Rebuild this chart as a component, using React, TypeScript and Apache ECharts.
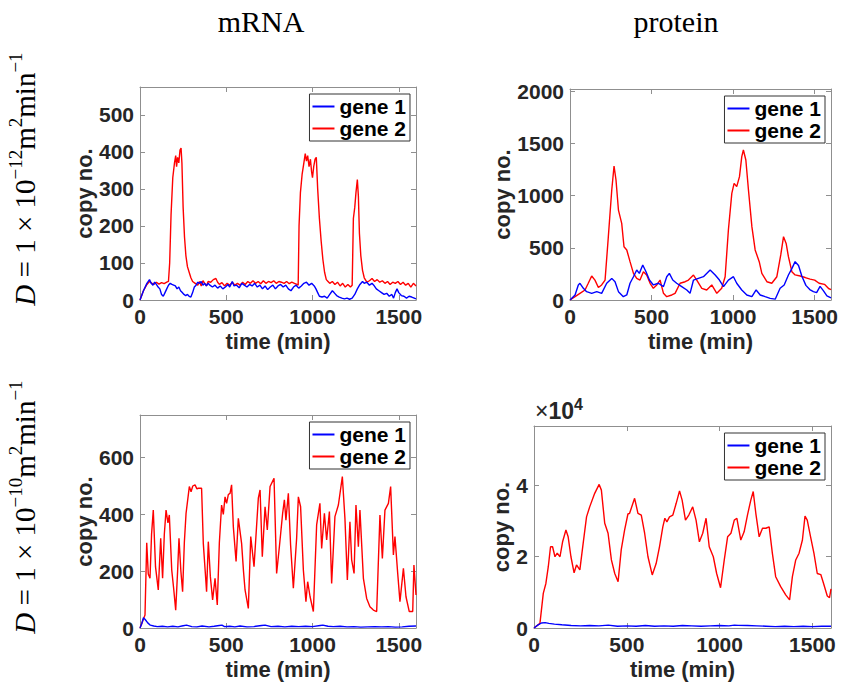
import React, { useEffect, useRef } from "react";
import * as echarts from "echarts";

// ---------- data (time in min, value in copy number) ----------
const SERIES_NAMES = ["gene 1", "gene 2"];
const COLUMN_TITLES = ["mRNA", "protein"];

// D = 1e-12, mRNA
const mrnaLowG1: number[][] = [
  [0, 0], [20, 25], [40, 45], [55, 55], [65, 45], [75, 40], [85, 48], [95, 42], [105, 35], [115, 30],
  [125, 15], [135, 10], [145, 20], [155, 30], [165, 40], [175, 45], [185, 42], [195, 40], [205, 38],
  [215, 30], [225, 35], [235, 25], [245, 20], [255, 15], [265, 12], [275, 15], [285, 10], [295, 8],
  [305, 20], [315, 35], [325, 40], [335, 48], [345, 45], [355, 50], [365, 40], [375, 45], [385, 38],
  [395, 45], [405, 40], [420, 35], [435, 40], [450, 32], [465, 38], [480, 30], [495, 35], [510, 42],
  [520, 35], [535, 50], [545, 38], [560, 40], [575, 33], [590, 45], [605, 40], [620, 35], [635, 42],
  [650, 38], [665, 45], [680, 35], [695, 40], [710, 30], [725, 38], [740, 28], [755, 35], [770, 40],
  [785, 30], [800, 38], [815, 42], [830, 35], [845, 40], [860, 30], [875, 25], [890, 35], [905, 40],
  [920, 32], [935, 38], [950, 45], [965, 48], [980, 40], [995, 45], [1010, 38], [1020, 30], [1030, 20],
  [1040, 10], [1055, 8], [1070, 10], [1085, 5], [1100, 15], [1115, 25], [1125, 20], [1140, 12],
  [1155, 8], [1170, 5], [1185, 3], [1200, 5], [1215, 2], [1230, 5], [1245, 15], [1260, 30], [1275, 42],
  [1290, 50], [1300, 45], [1315, 48], [1330, 40], [1345, 45], [1355, 40], [1370, 30], [1385, 25],
  [1400, 20], [1415, 15], [1430, 18], [1445, 10], [1460, 15], [1470, 5], [1480, 20], [1490, 30],
  [1500, 20], [1515, 12], [1530, 10], [1545, 5], [1560, 10], [1575, 8], [1590, 5], [1600, 3],
];
const mrnaLowG2: number[][] = [
  [0, 0], [20, 25], [40, 42], [55, 50], [70, 45], [80, 42], [95, 48], [110, 43], [125, 47], [140, 44],
  [155, 48], [165, 50], [172, 100], [180, 230], [190, 330], [200, 370], [207, 390], [212, 360],
  [218, 385], [225, 370], [232, 405], [238, 410], [243, 370], [250, 250], [258, 170], [266, 120],
  [275, 90], [285, 75], [295, 60], [305, 50], [320, 45], [335, 40], [345, 50], [355, 38], [365, 52],
  [375, 45], [385, 38], [395, 50], [410, 48], [425, 55], [440, 58], [450, 48], [460, 42], [475, 47],
  [490, 38], [505, 45], [520, 40], [535, 48], [550, 40], [565, 45], [580, 40], [595, 48], [610, 42],
  [625, 50], [640, 45], [655, 52], [670, 45], [685, 50], [700, 44], [715, 52], [730, 45], [745, 50],
  [760, 47], [775, 52], [790, 45], [805, 50], [820, 48], [835, 45], [850, 50], [865, 44], [880, 48],
  [895, 45], [910, 42], [917, 40], [922, 200], [930, 290], [940, 340], [950, 370], [958, 395],
  [965, 375], [972, 390], [980, 360], [988, 380], [995, 345], [1000, 330], [1007, 360], [1015, 380],
  [1022, 385], [1030, 300], [1040, 220], [1050, 160], [1060, 110], [1070, 75], [1080, 55], [1090, 50],
  [1100, 45], [1115, 50], [1130, 42], [1145, 48], [1160, 38], [1175, 45], [1190, 35], [1205, 42],
  [1220, 35], [1230, 40], [1237, 220], [1245, 250], [1252, 290], [1260, 325], [1266, 280], [1272, 180],
  [1280, 120], [1290, 80], [1300, 60], [1315, 48], [1330, 52], [1345, 58], [1360, 50], [1375, 55],
  [1390, 48], [1405, 52], [1420, 45], [1435, 50], [1450, 42], [1465, 48], [1480, 45], [1495, 50],
  [1510, 42], [1525, 48], [1540, 40], [1555, 45], [1570, 35], [1585, 45], [1600, 38],
];

// D = 1e-12, protein
const protLowG1: number[][] = [
  [0, 0], [31, 48], [51, 144], [61, 160], [82, 112], [102, 80], [133, 64], [164, 80], [194, 64],
  [225, 160], [256, 207], [276, 175], [297, 80], [327, 32], [348, 48], [368, 160], [389, 223],
  [409, 287], [425, 255], [446, 335], [466, 271], [487, 191], [511, 144], [542, 160], [573, 128],
  [593, 223], [609, 255], [630, 191], [654, 160], [685, 128], [716, 96], [736, 64], [757, 191],
  [787, 207], [818, 223], [859, 287], [890, 239], [916, 191], [941, 128], [971, 191], [1002, 223],
  [1022, 160], [1053, 96], [1084, 48], [1115, 32], [1141, 96], [1166, 48], [1196, 32], [1227, 16],
  [1258, 8], [1288, 112], [1313, 144], [1339, 239], [1360, 300], [1380, 367], [1401, 330], [1421, 230],
  [1446, 140], [1470, 100], [1492, 80], [1512, 70], [1533, 130], [1553, 90], [1575, 40], [1600, 20],
];
const protLowG2: number[][] = [
  [0, 0], [31, 32], [61, 64], [92, 96], [112, 160], [133, 230], [153, 190], [174, 120], [194, 144],
  [215, 191], [235, 606], [256, 1053], [270, 1283], [282, 1149], [297, 861], [317, 734], [331, 510],
  [348, 479], [368, 367], [389, 255], [409, 207], [429, 191], [450, 271], [470, 239], [491, 160],
  [511, 112], [532, 144], [552, 191], [573, 64], [593, 32], [624, 48], [644, 64], [675, 160],
  [706, 175], [726, 191], [757, 239], [777, 191], [808, 112], [838, 96], [869, 144], [900, 64],
  [930, 112], [951, 223], [971, 670], [992, 1021], [1006, 1117], [1022, 1085], [1039, 1181],
  [1053, 1372], [1063, 1436], [1078, 1340], [1094, 1053], [1115, 702], [1135, 479], [1160, 367],
  [1176, 255], [1207, 175], [1237, 160], [1268, 223], [1292, 431], [1309, 606], [1325, 542],
  [1339, 415], [1360, 271], [1380, 240], [1411, 230], [1442, 215], [1472, 200], [1500, 190],
  [1527, 160], [1560, 150], [1585, 110], [1600, 100],
];

// D = 1e-10, mRNA
const mrnaHighG1: number[][] = [
  [0, 0], [10, 15], [20, 36], [30, 30], [45, 18], [60, 10], [80, 7], [100, 5], [130, 6], [160, 4],
  [190, 6], [220, 4], [250, 8], [270, 10], [300, 5], [330, 4], [360, 7], [400, 4], [430, 6],
  [460, 9], [475, 10], [490, 5], [520, 6], [550, 4], [580, 7], [620, 4], [660, 5], [705, 9], [725, 10],
  [760, 5], [800, 6], [840, 4], [880, 6], [920, 5], [960, 6], [1000, 5], [1045, 9], [1060, 10],
  [1090, 6], [1120, 5], [1160, 6], [1200, 4], [1240, 5], [1280, 3], [1320, 4], [1360, 5], [1400, 4],
  [1440, 5], [1480, 3], [1520, 4], [1560, 6], [1600, 7],
];
const mrnaHighG2: number[][] = [
  [0, 0], [29, 46], [39, 300], [48, 190], [58, 175], [67, 330], [77, 415], [90, 215], [106, 134],
  [120, 316], [131, 175], [141, 330], [151, 415], [162, 370], [170, 398], [184, 204], [195, 140],
  [207, 63], [218, 200], [226, 316], [237, 200], [247, 128], [257, 300], [267, 404], [286, 498],
  [296, 480], [306, 500], [319, 504], [330, 490], [338, 492], [357, 492], [367, 298], [378, 200],
  [386, 128], [396, 304], [408, 180], [421, 99], [435, 175], [448, 81], [460, 300], [473, 433],
  [483, 400], [493, 462], [502, 439], [512, 470], [522, 474], [531, 504], [541, 357], [557, 234],
  [570, 386], [589, 298], [600, 200], [609, 134], [628, 69], [642, 322], [661, 216], [686, 457],
  [696, 486], [709, 251], [725, 427], [738, 345], [754, 498], [777, 527], [792, 192], [808, 286],
  [827, 404], [837, 451], [846, 380], [860, 474], [873, 292], [889, 140], [908, 316], [918, 462],
  [931, 427], [947, 204], [962, 93], [972, 163], [986, 110], [1005, 58], [1024, 363], [1043, 439],
  [1053, 280], [1069, 404], [1082, 310], [1098, 410], [1111, 157], [1130, 392], [1150, 433],
  [1173, 533], [1188, 386], [1202, 169], [1217, 374], [1227, 240], [1241, 192], [1252, 433],
  [1266, 286], [1275, 415], [1295, 175], [1314, 104], [1333, 75], [1353, 63], [1372, 58],
  [1391, 398], [1405, 245], [1420, 415], [1440, 439], [1453, 498], [1469, 257], [1478, 322],
  [1494, 192], [1507, 93], [1527, 210], [1542, 110], [1561, 58], [1581, 58], [1588, 222], [1600, 116],
];

// D = 1e-10, protein
const protHighG1: number[][] = [
  [0, 0], [20, 800], [40, 1400], [60, 1500], [80, 1300], [110, 1100], [150, 900], [200, 700],
  [250, 600], [300, 700], [350, 600], [400, 800], [450, 500], [500, 600], [550, 500], [600, 700],
  [650, 500], [700, 600], [750, 500], [800, 700], [850, 600], [900, 500], [950, 600], [1000, 700],
  [1050, 600], [1080, 800], [1100, 750], [1150, 700], [1200, 600], [1250, 500], [1300, 400],
  [1350, 500], [1400, 400], [1450, 500], [1500, 400], [1550, 500], [1600, 500],
];
const protHighG2: number[][] = [
  [0, 0], [32, 1300], [50, 9700], [64, 12500], [77, 17200], [89, 22800], [100, 22800], [113, 20000],
  [125, 21000], [140, 20000], [154, 24200], [172, 27500], [184, 25600], [199, 20000], [216, 15500],
  [229, 17700], [247, 16300], [265, 23800], [283, 31200], [300, 34000], [327, 37800], [351, 40300],
  [363, 38700], [381, 29400], [399, 26600], [417, 19100], [435, 15300], [453, 13000], [470, 22000],
  [488, 27500], [506, 32000], [515, 32200], [542, 36400], [560, 32200], [578, 31700], [596, 26600],
  [614, 20000], [637, 14900], [658, 18100], [676, 22800], [694, 28400], [705, 30800], [716, 29800],
  [730, 31200], [748, 31700], [766, 35000], [784, 38500], [798, 35900], [816, 30300], [834, 31700],
  [855, 34000], [873, 30300], [891, 24200], [909, 26600], [927, 30800], [944, 22800], [966, 20000],
  [984, 15300], [1005, 11300], [1025, 19100], [1043, 25600], [1061, 26600], [1079, 30300],
  [1093, 30800], [1114, 24700], [1132, 27000], [1150, 31700], [1168, 35900], [1181, 38300],
  [1195, 32200], [1213, 25600], [1231, 28000], [1249, 28000], [1267, 28400], [1284, 21000],
  [1302, 14400], [1329, 11600], [1356, 9300], [1377, 7900], [1392, 14400], [1410, 19100],
  [1428, 21000], [1446, 24700], [1460, 31400], [1472, 30300], [1490, 25600], [1508, 21000],
  [1526, 15300], [1545, 15000], [1560, 12500], [1580, 9000], [1592, 8500], [1600, 11000],
];

// axis settings per panel
const Y_MAX = [575, 2020, 750, 56700];
const Y_STEP = [100, 500, 200, 20000];
const X_MAX = 1600;
const X_STEP = 500;

const W = 842;
const H = 685;
const GRIDS = [
  { left: 140, top: 87, width: 276, height: 213, nameGap: 40 },
  { left: 570, top: 89, width: 261, height: 211, nameGap: 57 },
  { left: 140, top: 415, width: 276, height: 213, nameGap: 40 },
  { left: 534, top: 426, width: 297, height: 202, nameGap: 21 },
];

const PANEL_DATA = [
  [mrnaLowG1, mrnaLowG2],
  [protLowG1, protLowG2],
  [mrnaHighG1, mrnaHighG2],
  [protHighG1, protHighG2],
];

const COLORS = ["#0000ff", "#ff0000"];
const AXIS_COLOR = "#8f8f8f";
const SANS = "Liberation Sans";
const SERIF = "Liberation Serif";

function buildOption() {
  const grid: any[] = [];
  const xAxis: any[] = [];
  const yAxis: any[] = [];
  const series: any[] = [];
  const legend: any[] = [];
  const labelStyle = { fontFamily: SANS, fontWeight: "bold", fontSize: 21, color: "#262626" };
  const lineStyle = { color: AXIS_COLOR, width: 1 };
  GRIDS.forEach((g, i) => {
    grid.push({ left: g.left, top: g.top, width: g.width, height: g.height, containLabel: false });
    xAxis.push({
      type: "value", gridIndex: i, min: 0, max: X_MAX, interval: X_STEP, position: "bottom",
      axisLine: { show: true, onZero: false, lineStyle },
      axisTick: { show: true, inside: true, length: 5, lineStyle },
      axisLabel: {
        ...labelStyle, margin: 6, showMaxLabel: false,
        formatter: (v: number) => (v % X_STEP === 0 ? String(v) : ""),
      },
      splitLine: { show: false },
      name: "time (min)", nameLocation: "middle", nameGap: 30,
      nameTextStyle: { fontFamily: SANS, fontWeight: "bold", fontSize: 22, color: "#262626" },
    });
    xAxis.push({
      type: "value", gridIndex: i, min: 0, max: X_MAX, interval: X_STEP, position: "top",
      axisLine: { show: true, onZero: false, lineStyle },
      axisTick: { show: true, inside: true, length: 5, lineStyle },
      axisLabel: { show: false }, splitLine: { show: false },
    });
    const isSci = i === 3;
    yAxis.push({
      type: "value", gridIndex: i, min: 0, max: Y_MAX[i], interval: Y_STEP[i], position: "left",
      axisLine: { show: true, onZero: false, lineStyle },
      axisTick: { show: true, inside: true, length: 5, lineStyle },
      axisLabel: {
        ...labelStyle, margin: 6, showMaxLabel: false,
        formatter: (v: number) => (v % Y_STEP[i] !== 0 ? "" : isSci ? String(v / 10000) : String(v)),
      },
      splitLine: { show: false },
      name: "copy no.", nameLocation: "middle", nameGap: g.nameGap, nameRotate: 90,
      nameTextStyle: { fontFamily: SANS, fontWeight: "bold", fontSize: 22, color: "#262626" },
    });
    yAxis.push({
      type: "value", gridIndex: i, min: 0, max: Y_MAX[i], interval: Y_STEP[i], position: "right",
      axisLine: { show: true, onZero: false, lineStyle },
      axisTick: { show: true, inside: true, length: 5, lineStyle },
      axisLabel: { show: false }, splitLine: { show: false },
    });
    // draw gene 2 first, gene 1 on top
    [1, 0].forEach((k) => {
      series.push({
        type: "line", name: SERIES_NAMES[k], xAxisIndex: 2 * i, yAxisIndex: 2 * i,
        data: PANEL_DATA[i][k], symbol: "none", showSymbol: false,
        lineStyle: { color: COLORS[k], width: 1.4 }, itemStyle: { color: COLORS[k] },
        z: k === 0 ? 3 : 2,
      });
    });
    legend.push({
      orient: "vertical", right: W - (g.left + g.width) + 6, top: g.top + 7,
      data: SERIES_NAMES, icon: "rect", itemWidth: 22, itemHeight: 2, itemGap: 1,
      padding: [2, 4, 2, 3], borderColor: "#333", borderWidth: 1, backgroundColor: "#fff",
      selectedMode: false,
      textStyle: { fontFamily: SANS, fontWeight: "bold", fontSize: 21, color: "#000" },
    });
  });

  const rowLabelRich = {
    i: { fontFamily: SERIF, fontStyle: "italic", fontSize: 29, lineHeight: 38, verticalAlign: "middle" },
    m: { fontFamily: SERIF, fontSize: 29, lineHeight: 38, verticalAlign: "middle" },
    s: { fontFamily: SERIF, fontSize: 19, lineHeight: 19, verticalAlign: "top" },
  };
  const rowText = (exp: string) => `{i|D}{m| = 1 × 10}{s|−${exp}}{m|m}{s|2}{m|min}{s|−1}`;

  const graphic: any[] = [
    { type: "text", x: 261, y: 21, style: { text: COLUMN_TITLES[0], font: `30px "${SERIF}"`, fill: "#000", align: "center", verticalAlign: "middle" } },
    { type: "text", x: 676, y: 21, style: { text: COLUMN_TITLES[1], font: `30px "${SERIF}"`, fill: "#000", align: "center", verticalAlign: "middle" } },
    { type: "text", x: 25, y: 179, rotation: Math.PI / 2, style: { text: rowText("12"), rich: rowLabelRich, fill: "#000", align: "center", verticalAlign: "middle" } },
    { type: "text", x: 25, y: 507, rotation: Math.PI / 2, style: { text: rowText("10"), rich: rowLabelRich, fill: "#000", align: "center", verticalAlign: "middle" } },
    {
      type: "text", x: 535, y: 411,
      style: {
        text: "{x|×}{m|10}{s|4}", fill: "#262626", align: "left", verticalAlign: "middle",
        rich: {
          x: { fontFamily: SANS, fontSize: 23, lineHeight: 30, verticalAlign: "middle" },
          m: { fontFamily: SANS, fontWeight: "bold", fontSize: 23, lineHeight: 30, verticalAlign: "middle" },
          s: { fontFamily: SANS, fontWeight: "bold", fontSize: 16, lineHeight: 16, verticalAlign: "top" },
        },
      },
    },
  ];

  return { animation: false, backgroundColor: "#fff", grid, xAxis, yAxis, series, legend, graphic };
}

export default function App() {
  const ref = useRef<HTMLDivElement>(null);
  useEffect(() => {
    if (!ref.current) return;
    const chart = echarts.init(ref.current, null, { renderer: "svg", width: W, height: H });
    chart.setOption(buildOption() as any);
    return () => chart.dispose();
  }, []);
  return <div ref={ref} style={{ position: "absolute", left: 0, top: 0, width: W, height: H }} />;
}
